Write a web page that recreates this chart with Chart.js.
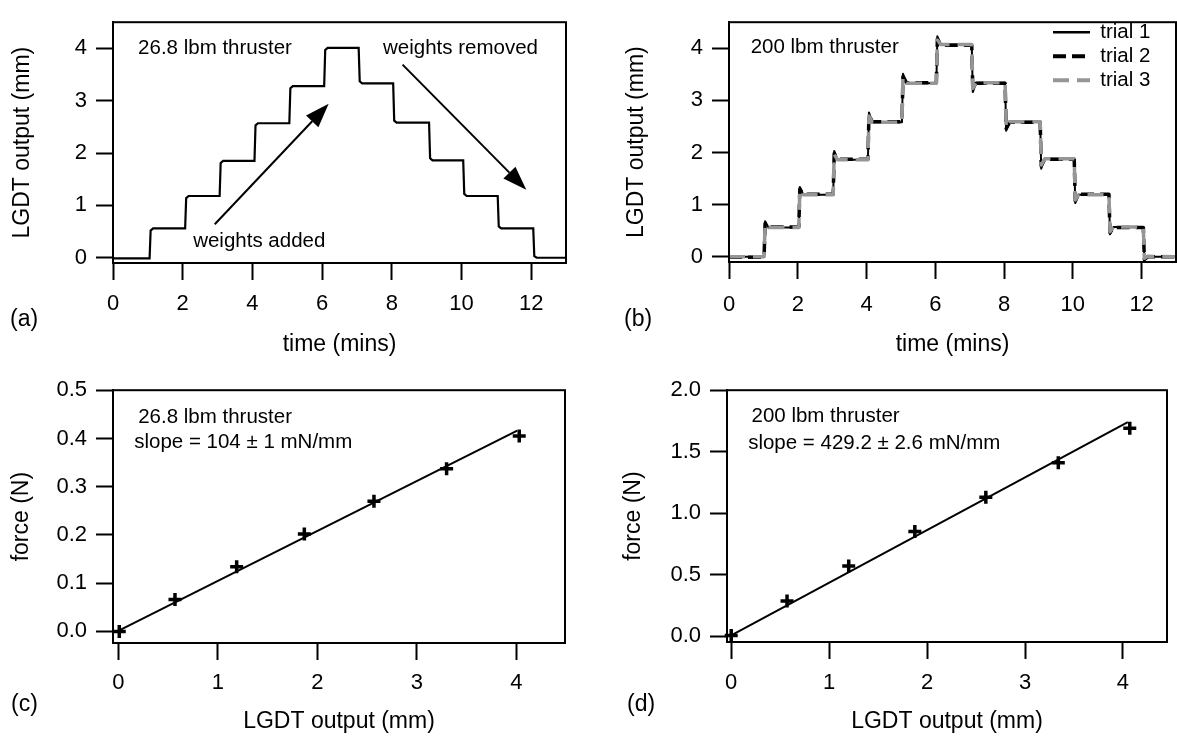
<!DOCTYPE html>
<html>
<head>
<meta charset="utf-8">
<script src="https://cdn.jsdelivr.net/npm/chart.js@4.4.1/dist/chart.umd.min.js"></script>
<style>
  body { margin: 0; background: #fff; }
  #wrap { position: relative; width: 1177px; height: 736px; background: #fff; }
  canvas { position: absolute; }
</style>
</head>
<body>
<div id="wrap">
  <canvas id="chartA" width="588" height="368" style="left:0;top:0"></canvas>
  <canvas id="chartB" width="589" height="368" style="left:588px;top:0"></canvas>
  <canvas id="chartC" width="588" height="368" style="left:0;top:368px"></canvas>
  <canvas id="chartD" width="589" height="368" style="left:588px;top:368px"></canvas>
</div>
<script>
const FONT = "'Liberation Sans', Arial, Helvetica, sans-serif";
Chart.defaults.font.family = FONT;
Chart.defaults.color = '#000';

// (a) 26.8 lbm thruster - LGDT output while weights are added / removed
const aTime = [0, 1.05, 1.08, 1.15, 2.07, 2.10, 2.17, 3.06, 3.09, 3.16, 4.06, 4.09, 4.16,
  5.06, 5.09, 5.16, 6.06, 6.09, 6.16, 7.05, 7.08, 7.15, 8.04, 8.07, 8.14, 9.07, 9.10, 9.17,
  10.05, 10.08, 10.15, 11.04, 11.07, 11.14, 12.06, 12.09, 12.16, 13];
const aOutput = [-0.01, -0.01, 0.52, 0.56, 0.56, 1.14, 1.18, 1.18, 1.81, 1.85, 1.85, 2.53, 2.57,
  2.57, 3.24, 3.28, 3.28, 3.97, 4.01, 4.01, 3.37, 3.33, 3.33, 2.62, 2.58, 2.58, 1.90, 1.86,
  1.86, 1.22, 1.18, 1.18, 0.60, 0.56, 0.56, 0.03, 0.0, 0.0];

// (b) 200 lbm thruster - three trials
const bTime = [0, 1.02, 1.05, 1.15, 2.03, 2.06, 2.16, 3.03, 3.06, 3.16, 4.04, 4.07, 4.17,
  5.03, 5.06, 5.16, 6.03, 6.06, 6.16, 7.06, 7.09, 7.19, 8.03, 8.06, 8.16, 9.05, 9.08, 9.18,
  10.04, 10.07, 10.17, 11.05, 11.08, 11.18, 12.05, 12.08, 12.18, 13];
const bTrial1 = [0.0, 0.0, 0.68, 0.56, 0.56, 1.34, 1.19, 1.19, 2.03, 1.86, 1.86, 2.77, 2.58,
  2.58, 3.51, 3.33, 3.33, 4.23, 4.07, 4.07, 3.16, 3.34, 3.34, 2.42, 2.59, 2.59, 1.69, 1.88,
  1.88, 1.03, 1.19, 1.19, 0.43, 0.57, 0.57, -0.07, 0.0, 0.0];
const bTrial2 = [-0.01, -0.01, 0.64, 0.57, 0.57, 1.30, 1.20, 1.20, 1.98, 1.87, 1.87, 2.72, 2.59,
  2.59, 3.46, 3.34, 3.34, 4.18, 4.06, 4.06, 3.21, 3.33, 3.33, 2.46, 2.58, 2.58, 1.74, 1.87,
  1.87, 1.07, 1.20, 1.20, 0.46, 0.56, 0.56, -0.05, 0.0, 0.0];
const bTrial3 = [0.0, 0.0, 0.62, 0.56, 0.56, 1.28, 1.19, 1.19, 1.96, 1.86, 1.86, 2.70, 2.58,
  2.58, 3.44, 3.33, 3.33, 4.16, 4.07, 4.07, 3.23, 3.34, 3.34, 2.48, 2.59, 2.59, 1.76, 1.88,
  1.88, 1.09, 1.19, 1.19, 0.48, 0.57, 0.57, -0.03, 0.01, 0.0];
const trialLabels = ['trial 1', 'trial 2', 'trial 3'];

// (c) 26.8 lbm thruster calibration
const cOutput = [0.01, 0.57, 1.19, 1.87, 2.57, 3.30, 4.03];
const cForce = [0.0, 0.066, 0.134, 0.202, 0.270, 0.337, 0.405];
const cFitOutput = [0.0, 4.01];
const cFitForce = [0.001, 0.416];

// (d) 200 lbm thruster calibration
const dOutput = [0.0, 0.57, 1.20, 1.875, 2.60, 3.34, 4.07];
const dForce = [0.005, 0.285, 0.57, 0.85, 1.13, 1.41, 1.69];
const dFitOutput = [0.0, 4.05];
const dFitForce = [0.005, 1.74];

// tick labels
const timeTicks = [0, 2, 4, 6, 8, 10, 12];
const lgdtTicks = [0, 1, 2, 3, 4];
const cForceTicks = [0, 0.1, 0.2, 0.3, 0.4, 0.5];
const dForceTicks = [0, 0.5, 1.0, 1.5, 2.0];

const pts = (xs, ys) => xs.map((v, i) => ({x: v, y: ys[i]}));

function axis(pos, min, max, ticks, fmt, title, size, pad, tpad) {
  return {
    type: 'linear', position: pos, min: min, max: max,
    afterBuildTicks: s => { s.ticks = ticks.map(v => ({value: v})); },
    afterFit: s => { if (pos === 'left') s.width = size; else s.height = size; },
    grid: { display: true, drawOnChartArea: false, drawTicks: true, tickLength: 17, tickWidth: 2, tickColor: '#000' },
    border: { display: true, color: '#000', width: 2 },
    ticks: { padding: pad, font: { size: 22 }, color: '#000', maxRotation: 0, autoSkip: false, callback: v => fmt(v) },
    title: { display: true, text: title, font: { size: 23 }, color: '#000', padding: tpad }
  };
}
const int = v => String(Math.round(v));
const one = v => v.toFixed(1);

// box round the plot area
const frame = {
  id: 'frame',
  afterDatasetsDraw(chart) {
    const {ctx, chartArea: a} = chart;
    ctx.save();
    ctx.strokeStyle = '#000';
    ctx.lineWidth = 2;
    ctx.strokeRect(a.left, a.top, a.right - a.left, a.bottom - a.top);
    ctx.restore();
  }
};

// text, arrows and panel letter
const notes = {
  id: 'notes',
  afterDraw(chart, args, o) {
    const {ctx, scales: {x, y}} = chart;
    ctx.save();
    ctx.fillStyle = '#000';
    ctx.strokeStyle = '#000';
    ctx.textBaseline = 'middle';
    ctx.textAlign = 'left';
    ctx.font = '20.5px ' + FONT;
    (o.texts || []).forEach(t => ctx.fillText(t.text, x.getPixelForValue(t.x), y.getPixelForValue(t.y)));
    (o.arrows || []).forEach(a => {
      const x0 = x.getPixelForValue(a.from[0]), y0 = y.getPixelForValue(a.from[1]);
      const x1 = x.getPixelForValue(a.to[0]), y1 = y.getPixelForValue(a.to[1]);
      const ang = Math.atan2(y1 - y0, x1 - x0);
      const L = 24, W = 8.5;
      const bx = x1 - L * Math.cos(ang), by = y1 - L * Math.sin(ang);
      ctx.lineWidth = 2;
      ctx.beginPath();
      ctx.moveTo(x0, y0);
      ctx.lineTo(bx, by);
      ctx.stroke();
      ctx.beginPath();
      ctx.moveTo(x1, y1);
      ctx.lineTo(bx + W * Math.sin(ang), by - W * Math.cos(ang));
      ctx.lineTo(bx - W * Math.sin(ang), by + W * Math.cos(ang));
      ctx.closePath();
      ctx.fill();
    });
    if (o.panel) {
      ctx.font = '23px ' + FONT;
      ctx.fillText(o.panel.text, o.panel.px, o.panel.py);
    }
    ctx.restore();
  }
};

// put the legend inside the plot, top right
const legendSpot = {
  id: 'legendSpot',
  afterLayout(chart, args, o) {
    const lg = chart.legend;
    if (!lg || o.left == null) return;
    lg.left = o.left;
    lg.top = o.top;
    lg.right = o.left + lg.width;
    lg.bottom = o.top + lg.height + 100;
  }
};

const base = {
  responsive: false,
  animation: false,
  events: [],
  layout: { padding: { top: 7, right: 22, left: 0, bottom: 0 } }
};

// (a)
new Chart(document.getElementById('chartA'), {
  type: 'scatter',
  data: {
    datasets: [{
      label: '26.8 lbm', data: pts(aTime, aOutput), showLine: true,
      borderColor: '#000', borderWidth: 2.2, pointRadius: 0
    }]
  },
  options: Object.assign({}, base, {
    layout: { padding: { top: 7, right: 22, left: 0, bottom: 0 } },
    scales: {
      x: axis('bottom', 0, 13, timeTicks, int, 'time (mins)', 105, 11, 9.2),
      y: axis('left', -0.1, 4.5, lgdtTicks, int, 'LGDT output (mm)', 113, 9, 9.2)
    },
    plugins: {
      legend: { display: false }, tooltip: { enabled: false },
      notes: {
        texts: [
          { text: '26.8 lbm thruster', x: 0.72, y: 4.01 },
          { text: 'weights added', x: 2.30, y: 0.31 },
          { text: 'weights removed', x: 7.75, y: 4.0 }
        ],
        arrows: [
          { from: [2.92, 0.64], to: [6.19, 2.94] },
          { from: [8.31, 3.69], to: [11.86, 1.30] }
        ],
        panel: { text: '(a)', px: 10, py: 320 }
      }
    }
  }),
  plugins: [frame, notes]
});

// (b)
new Chart(document.getElementById('chartB'), {
  type: 'scatter',
  data: {
    datasets: [
      { label: trialLabels[0], data: pts(bTime, bTrial1), showLine: true, order: 2,
        borderColor: '#000', borderWidth: 2, borderJoinStyle: 'round', pointRadius: 0 },
      { label: trialLabels[1], data: pts(bTime, bTrial2), showLine: true, order: 1,
        borderColor: '#000', borderWidth: 3.5, borderDash: [13, 6], borderJoinStyle: 'round', pointRadius: 0 },
      { label: trialLabels[2], data: pts(bTime, bTrial3), showLine: true, order: 0,
        borderColor: 'rgb(150,150,150)', borderWidth: 3.5, borderDash: [16, 8], borderJoinStyle: 'round', pointRadius: 0 }
    ]
  },
  options: Object.assign({}, base, {
    layout: { padding: { top: 7, right: 1, left: 0, bottom: 0 } },
    scales: {
      x: axis('bottom', 0, 13, timeTicks, int, 'time (mins)', 106, 12.5, 9.2),
      y: axis('left', -0.1, 4.5, lgdtTicks, int, 'LGDT output (mm)', 141, 9, 35.2)
    },
    plugins: {
      tooltip: { enabled: false },
      legend: {
        display: true, position: 'chartArea', align: 'start',
        labels: {
          usePointStyle: true, pointStyleWidth: 37, padding: 3.5, color: '#000',
          font: { size: 20.5 },
          generateLabels: chart => chart.data.datasets.map((ds, i) => ({
            text: ds.label, datasetIndex: i, hidden: false, fontColor: '#000',
            strokeStyle: ds.borderColor, fillStyle: ds.borderColor,
            lineWidth: ds.borderWidth + 0.5, lineDash: ds.borderDash || [],
            lineCap: 'butt', pointStyle: 'line'
          }))
        }
      },
      legendSpot: { left: 461.5, top: 18.5 },
      notes: {
        texts: [{ text: '200 lbm thruster', x: 0.63, y: 4.02 }],
        panel: { text: '(b)', px: 36, py: 320 }
      }
    }
  }),
  plugins: [frame, notes, legendSpot]
});

function calib(id, xs, ys, fx, fy, yMin, yMax, yTicks, opt) {
  return new Chart(document.getElementById(id), {
    type: 'scatter',
    data: {
      datasets: [
        { label: 'measured', data: pts(xs, ys), showLine: false, clip: false,
          pointStyle: 'cross', pointRadius: 6.5, pointBorderWidth: 3.5,
          pointBorderColor: '#000', pointBackgroundColor: '#000' },
        { label: 'fit', data: pts(fx, fy), showLine: true,
          borderColor: '#000', borderWidth: 2, pointRadius: 0 }
      ]
    },
    options: Object.assign({}, base, {
      layout: { padding: { top: 17, right: opt.right, left: 0, bottom: 0 } },
      scales: {
        x: axis('bottom', opt.xMin, opt.xMax, lgdtTicks, int, 'LGDT output (mm)', opt.xSize, opt.xPad, 0.2),
        y: axis('left', yMin, yMax, yTicks, one, 'force (N)', opt.ySize, 9, opt.yTitlePad)
      },
      plugins: {
        legend: { display: false }, tooltip: { enabled: false },
        notes: { texts: opt.texts, panel: opt.panel }
      }
    }),
    plugins: [frame, notes]
  });
}

// (c)
calib('chartC', cOutput, cForce, cFitOutput, cFitForce, -0.024, 0.5, cForceTicks, {
  right: 23, xMin: -0.053, xMax: 4.49, xSize: 93, xPad: 9.8, ySize: 113, yTitlePad: 8.2,
  texts: [
    { text: '26.8 lbm thruster', x: 0.20, y: 0.443 },
    { text: 'slope = 104 \u00b1 1 mN/mm', x: 0.16, y: 0.392 }
  ],
  panel: { text: '(c)', px: 11, py: 337 }
});

// (d)
calib('chartD', dOutput, dForce, dFitOutput, dFitForce, -0.048, 2.0, dForceTicks, {
  right: 1, xMin: -0.043, xMax: 4.45, xSize: 94, xPad: 10.8, ySize: 139, yTitlePad: 32.2,
  texts: [
    { text: '200 lbm thruster', x: 0.207, y: 1.786 },
    { text: 'slope = 429.2 \u00b1 2.6 mN/mm', x: 0.173, y: 1.566 }
  ],
  panel: { text: '(d)', px: 39, py: 337 }
});
</script>
</body>
</html>
